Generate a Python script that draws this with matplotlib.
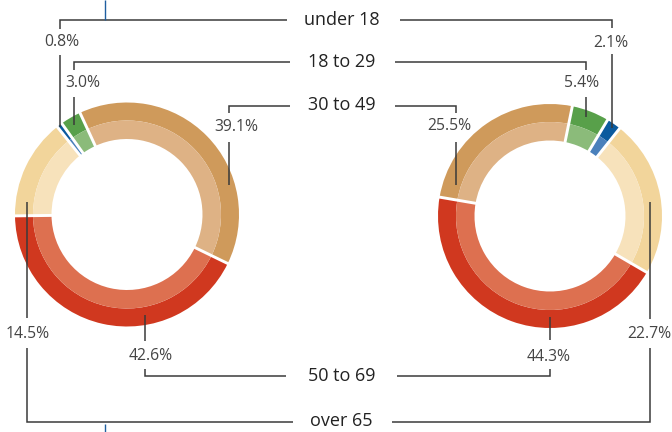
import matplotlib
matplotlib.use("Agg")
import matplotlib.pyplot as plt
import numpy as np

# Age-group shares (percent) for the two donuts
groups = ["under 18", "18 to 29", "30 to 49", "50 to 69", "over 65"]
left_share = [0.8, 3.0, 39.1, 42.6, 14.5]
right_share = [2.1, 5.4, 25.5, 44.3, 22.7]

outer_colors = ["#0b5a9e", "#58a04a", "#cf9a5b", "#d0381f", "#f2d59b"]
inner_colors = ["#4a80bb", "#8bbb7a", "#deb285", "#dd7050", "#f7e2bb"]

W, H = 672, 432
plt.rcParams["font.family"] = ["Open Sans", "DejaVu Sans"]

fig = plt.figure(figsize=(W / 100, H / 100), dpi=100)
ax = fig.add_axes([0, 0, 1, 1])


def Y(y):
    """Convert a top-down pixel row into the axes' y coordinate."""
    return H - y


R_OUT, R_MID, R_IN = 112, 94, 75.5


def donut(values, cx, cy, start, clockwise):
    center = (cx, Y(cy))
    ax.pie(values, radius=R_OUT, center=center, startangle=start,
           counterclock=not clockwise, colors=outer_colors,
           wedgeprops=dict(width=R_OUT - R_MID, linewidth=0))
    ax.pie(values, radius=R_MID, center=center, startangle=start,
           counterclock=not clockwise, colors=inner_colors,
           wedgeprops=dict(width=R_MID - R_IN, linewidth=0))
    sign = -1 if clockwise else 1
    edges = start + sign * 3.6 * np.cumsum([0] + list(values))
    for a in edges[:-1]:
        t = np.deg2rad(a)
        ax.plot([cx + (R_IN - 1) * np.cos(t), cx + (R_OUT + 1) * np.cos(t)],
                [Y(cy) + (R_IN - 1) * np.sin(t), Y(cy) + (R_OUT + 1) * np.sin(t)],
                color="white", lw=2.1, solid_capstyle="butt", zorder=3)


donut(left_share, 127, 214.5, 128.5, clockwise=True)
donut(right_share, 550, 216, 51.5, clockwise=False)

LINE = "#3a3a3a"


def path(pts, color=LINE, lw=1.1):
    xs = [p[0] for p in pts]
    ys = [Y(p[1]) for p in pts]
    ax.plot(xs, ys, color=color, lw=lw, solid_capstyle="butt",
            solid_joinstyle="miter", zorder=4)


# leader lines and value label positions, one entry per group
left_layout = [
    ([(287, 20), (59.5, 20), (59.5, 29)], [(59.5, 55), (59.5, 127)], (61.5, 42)),
    ([(290, 61.5), (74, 61.5), (74, 70)], [(74, 97), (74, 125)], (82.5, 83)),
    ([(290, 106), (228.7, 106), (228.7, 113)], [(228.7, 142), (228.7, 185)], (236, 127)),
    ([(145, 315), (145, 341)], [(145, 369), (145, 376), (286, 376)], (150.5, 356)),
    ([(27, 202), (27, 318)], [(27, 348), (27, 422), (293, 422)], (27.5, 334)),
]
right_layout = [
    ([(400, 20), (611.7, 20), (611.7, 28)], [(611.7, 54), (611.7, 128)], (610.5, 43)),
    ([(395, 61.5), (586, 61.5), (586, 70)], [(586, 97), (586, 117)], (581.5, 83)),
    ([(395, 106), (456, 106), (456, 113)], [(456, 142), (456, 185)], (449, 126)),
    ([(550, 317), (550, 340)], [(550, 369), (550, 376), (397, 376)], (549, 357)),
    ([(650, 202), (650, 319)], [(650, 348), (650, 422), (392, 422)], (649.5, 334)),
]

for values, layout in ((left_share, left_layout), (right_share, right_layout)):
    for v, (seg1, seg2, (tx, ty)) in zip(values, layout):
        path(seg1)
        path(seg2)
        ax.text(tx, Y(ty), f"{v:.1f}%", ha="center", va="center",
                fontsize=11.3, color="#454545", zorder=5)

# group names between the donuts
label_rows = [20, 62, 105, 376, 421]
for name, row in zip(groups, label_rows):
    ax.text(341.5, Y(row), name, ha="center", va="center",
            fontsize=13, color="#222222", zorder=5)

# thin blue marker rules
path([(105.3, 0), (105.3, 20)], color="#1f5fa0", lw=1.0)
path([(105.3, 424), (105.3, 432)], color="#1f5fa0", lw=1.0)

ax.set_xlim(0, W)
ax.set_ylim(0, H)
ax.set_aspect("equal")
ax.axis("off")

fig.savefig("out.png", dpi=100)
